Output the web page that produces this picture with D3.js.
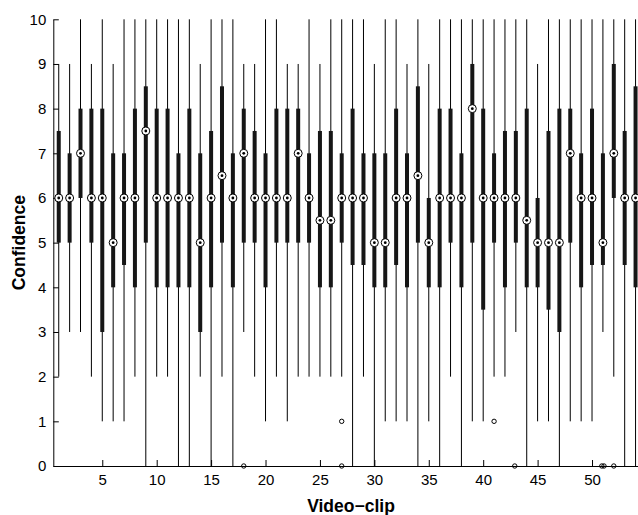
<!DOCTYPE html>
<html>
<head>
<meta charset="utf-8">
<script src="https://cdn.jsdelivr.net/npm/d3@7"></script>
<style>
  body { margin: 0; background: #fff; }
  svg { display: block; font-family: "Liberation Sans", Arial, sans-serif; }
  .axis path, .axis line { stroke: #000; }
  .axis text { font-size: 15px; fill: #000; }
</style>
</head>
<body>
<div id="chart"></div>
<script>
// Video clips on the x axis
const clips = [1, 2, 3, 4, 5, 6, 7, 8, 9, 10, 11, 12, 13, 14, 15, 16, 17, 18,
               19, 20, 21, 22, 23, 24, 25, 26, 27, 28, 29, 30, 31, 32, 33, 34, 35, 36,
               37, 38, 39, 40, 41, 42, 43, 44, 45, 46, 47, 48, 49, 50, 51, 52, 53, 54];

// Five-number summaries, one value per clip
const whiskerLow = [2, 3, 3, 2, 1, 1, 1, 2, 0, 2, 2, 0, 0, 2, 0, 2, 0, 3,
                    2, 1, 2, 1, 2, 2, 2, 2, 2, 0, 2, 0, 1, 1, 1, 0, 1, 0,
                    2, 0, 1, 1, 2, 2, 3, 0, 1, 1, 0, 1, 1, 1, 3, 2, 0, 0];
const q1 = [5, 5, 6, 5, 3, 4, 4.5, 4, 5, 4, 4, 4, 4, 3, 4, 5, 4, 5,
            5, 4, 5, 5, 5, 5, 4, 4, 5, 4.5, 4.5, 4, 4, 4.5, 4, 5, 4, 4,
            5, 4, 5, 3.5, 5, 4, 5, 4, 4, 3.5, 3, 5, 4, 4.5, 4.5, 6, 4.5, 4];
const medians = [6, 6, 7, 6, 6, 5, 6, 6, 7.5, 6, 6, 6, 6, 5, 6, 6.5, 6, 7,
                 6, 6, 6, 6, 7, 6, 5.5, 5.5, 6, 6, 6, 5, 5, 6, 6, 6.5, 5, 6,
                 6, 6, 8, 6, 6, 6, 6, 5.5, 5, 5, 5, 7, 6, 6, 5, 7, 6, 6];
const q3 = [7.5, 7, 8, 8, 8, 7, 7, 8, 8.5, 8, 8, 7, 8, 7, 7.5, 8.5, 7, 8,
            7.5, 7, 8, 8, 8, 7, 7.5, 7.5, 7, 8, 7, 7, 7, 8, 7, 8.5, 6, 8,
            8, 7, 9, 8, 7, 7.5, 7.5, 8, 6, 7.5, 8, 8, 7, 8, 7, 9, 7.5, 8.5];
const whiskerHigh = [9, 9, 10, 9, 10, 9, 10, 10, 10, 10, 10, 10, 10, 9, 10, 10, 10, 9,
                     9, 10, 10, 9, 9, 10, 9, 10, 10, 10, 10, 9, 10, 10, 9, 10, 9, 10,
                     10, 10, 10, 10, 10, 10, 10, 10, 9, 10, 10, 10, 10, 10, 10, 10, 10, 10];

// Outliers (clip, value, small sideways jitter in clip units)
const outlierClip = [18, 27, 27, 41, 43, 51, 51, 52];
const outlierValue = [0, 1, 0, 1, 0, 0, 0, 0];
const outlierJitter = [0, 0, 0, 0, -0.1, -0.1, 0.1, 0];

const yTicks = [0, 1, 2, 3, 4, 5, 6, 7, 8, 9, 10];
const xTicks = [5, 10, 15, 20, 25, 30, 35, 40, 45, 50];

const width = 638;
const height = 515;

// Plot box (right edge runs a little past the window, as in the reference)
const plot = { left: 53.3, right: 641, top: 19.3, bottom: 466 };

const svg = d3.select("#chart").append("svg")
  .attr("width", width)
  .attr("height", height);

const xScale = d3.scaleLinear()
  .domain([0.5, 54.5])
  .range([plot.left, plot.right]);

const yScale = d3.scaleLinear()
  .domain([0, 10])
  .range([plot.bottom, plot.top]);

// Build one record per clip from the arrays above
const boxes = clips.map((c, i) => ({
  clip: c,
  lo: whiskerLow[i],
  q1: q1[i],
  med: medians[i],
  q3: q3[i],
  hi: whiskerHigh[i]
}));

const outliers = outlierClip.map((c, i) => ({
  clip: c + outlierJitter[i],
  value: outlierValue[i]
}));

// Axes, ticks point inward like the MATLAB figure
svg.append("g")
  .attr("class", "axis")
  .attr("transform", "translate(0," + plot.bottom + ")")
  .call(d3.axisBottom(xScale).tickValues(xTicks).tickSize(-6).tickSizeOuter(0).tickPadding(8.5));

svg.append("g")
  .attr("class", "axis")
  .attr("transform", "translate(" + plot.left + ",0)")
  .call(d3.axisLeft(yScale).tickValues(yTicks).tickSize(-5.5).tickSizeOuter(0).tickPadding(7));

// Whiskers
svg.selectAll(".whisker")
  .data(boxes)
  .enter().append("line")
    .attr("class", "whisker")
    .attr("x1", d => xScale(d.clip))
    .attr("x2", d => xScale(d.clip))
    .attr("y1", d => yScale(d.lo))
    .attr("y2", d => yScale(d.hi))
    .attr("stroke", "#000")
    .attr("stroke-width", 1);

// Thick boxes
svg.selectAll(".box")
  .data(boxes)
  .enter().append("rect")
    .attr("class", "box")
    .attr("x", d => xScale(d.clip) - 2)
    .attr("width", 4)
    .attr("y", d => yScale(d.q3))
    .attr("height", d => yScale(d.q1) - yScale(d.q3))
    .attr("fill", "#161616");

// Median markers: white ring with a dot
svg.selectAll(".median")
  .data(boxes)
  .enter().append("circle")
    .attr("class", "median")
    .attr("cx", d => xScale(d.clip))
    .attr("cy", d => yScale(d.med))
    .attr("r", 4)
    .attr("fill", "#fff")
    .attr("stroke", "#000")
    .attr("stroke-width", 1);

svg.selectAll(".median-dot")
  .data(boxes)
  .enter().append("circle")
    .attr("class", "median-dot")
    .attr("cx", d => xScale(d.clip))
    .attr("cy", d => yScale(d.med))
    .attr("r", 1.4)
    .attr("fill", "#000");

// Outliers
svg.selectAll(".outlier")
  .data(outliers)
  .enter().append("circle")
    .attr("class", "outlier")
    .attr("cx", d => xScale(d.clip))
    .attr("cy", d => yScale(d.value))
    .attr("r", 2.2)
    .attr("fill", "none")
    .attr("stroke", "#000")
    .attr("stroke-width", 1);

// Axis titles
svg.append("text")
  .attr("x", 351)
  .attr("y", 512)
  .style("text-anchor", "middle")
  .style("font-weight", "bold")
  .style("font-size", "17.5px")
  .text("Video\u2212clip");

svg.append("text")
  .attr("transform", "translate(25," + ((plot.top + plot.bottom) / 2) + ") rotate(-90)")
  .style("text-anchor", "middle")
  .style("font-weight", "bold")
  .style("font-size", "17.5px")
  .text("Confidence");
</script>
</body>
</html>
